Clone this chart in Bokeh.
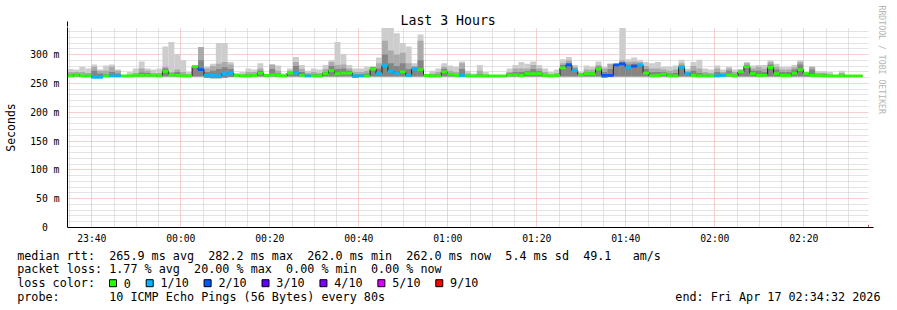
import datetime as dt
from bokeh.plotting import figure
from bokeh.layouts import column
from bokeh.models import (ColumnDataSource, Range1d, FixedTicker, CustomJSTickFormatter,
                          Arrow, NormalHead, Title)
from bokeh.core.properties import value
from bokeh.embed import file_html
from bokeh.resources import INLINE

# ---------------- data ----------------
START = dt.datetime(2026, 4, 16, 23, 34, 32)
END = dt.datetime(2026, 4, 17, 2, 34, 32)
STEP_S = 80

median_ms = [263, 265, 263, 263, 261, 261, 263, 263, 263, 263,
             263, 264, 264, 264, 264, 263, 271, 265, 264, 263,
             263, 279, 274, 264, 264, 263, 267, 268, 264, 263,
             263, 264, 268, 264, 265, 264, 263, 268, 268, 264,
             263, 263, 263, 267, 272, 267, 268, 268, 263, 263,
             263, 275, 267, 281, 271, 268, 270, 264, 275, 274,
             264, 263, 263, 270, 266, 264, 264, 263, 263, 263,
             263, 263, 263, 263, 265, 265, 264, 267, 267, 267,
             264, 263, 264, 277, 282, 272, 265, 267, 267, 275,
             264, 264, 282, 284, 278, 280, 282, 268, 263, 264,
             266, 263, 263, 278, 267, 264, 263, 263, 263, 263,
             264, 265, 263, 270, 279, 267, 264, 264, 278, 267,
             264, 264, 268, 274, 267, 264, 264, 263, 263, 263,
             263, 263, 263, 263]

loss_count = [0, 0, 0, 0, 1, 1, 0, 1, 1, 0,
              0, 0, 0, 0, 0, 0, 0, 0, 0, 0,
              0, 0, 2, 1, 1, 1, 1, 1, 0, 0,
              0, 0, 0, 0, 0, 0, 0, 0, 1, 0,
              1, 0, 0, 0, 0, 0, 0, 0, 1, 1,
              0, 0, 1, 1, 1, 1, 0, 1, 1, 0,
              0, 0, 0, 0, 0, 0, 1, 0, 0, 0,
              0, 0, 0, 0, 0, 0, 0, 0, 0, 0,
              0, 0, 0, 0, 2, 1, 0, 0, 0, 0,
              2, 2, 2, 2, 1, 2, 1, 0, 0, 0,
              0, 0, 0, 1, 1, 0, 0, 0, 0, 1,
              1, 0, 0, 0, 0, 0, 0, 0, 0, 0,
              0, 0, 0, 0, 0, 0, 0, 0, 0, 0,
              0, 0, 0, 0]

ping_max = [275, 274, 279, 276, 283, 274, 281, 283, 274, 264,
            270, 276, 288, 276, 274, 276, 314, 322, 301, 290,
            270, 281, 313, 279, 284, 320, 320, 287, 268, 270,
            276, 274, 285, 266, 283, 281, 267, 276, 296, 282,
            272, 276, 274, 282, 290, 322, 301, 282, 276, 276,
            279, 279, 295, 346, 346, 337, 320, 314, 285, 335,
            266, 272, 276, 285, 281, 279, 288, 272, 267, 282,
            270, 263, 263, 263, 276, 282, 287, 284, 288, 282,
            276, 270, 274, 292, 296, 282, 270, 281, 279, 288,
            279, 284, 284, 346, 292, 295, 291, 287, 285, 287,
            279, 279, 281, 291, 276, 287, 291, 276, 274, 281,
            274, 279, 274, 274, 287, 281, 282, 282, 290, 284,
            279, 279, 282, 290, 270, 279, 271, 271, 270, 263,
            272, 263, 263, 263]

ping_upper2 = [270, 270, 270, 268, 279, 272, 272, 279, 272, 264,
               265, 268, 276, 272, 268, 268, 279, 270, 274, 270,
               266, 281, 313, 276, 280, 284, 287, 283, 266, 266,
               270, 270, 276, 265, 283, 272, 265, 272, 287, 275,
               268, 270, 268, 275, 287, 282, 283, 276, 270, 270,
               272, 279, 285, 324, 307, 300, 303, 285, 280, 324,
               265, 267, 270, 279, 272, 270, 285, 267, 265, 272,
               266, 263, 263, 263, 270, 276, 276, 276, 282, 276,
               270, 266, 268, 285, 290, 279, 268, 274, 274, 282,
               276, 284, 284, 290, 287, 288, 287, 280, 276, 276,
               274, 272, 274, 285, 272, 280, 276, 270, 268, 276,
               270, 276, 270, 274, 285, 276, 279, 276, 287, 279,
               274, 274, 278, 287, 269, 279, 268, 268, 266, 263,
               268, 263, 263, 263]

ping_upper3 = [266, 267, 265, 265, 272, 267, 266, 270, 267, 263,
               264, 265, 269, 268, 265, 265, 276, 267, 270, 265,
               264, 280, 290, 270, 272, 275, 278, 275, 265, 264,
               266, 266, 272, 264, 275, 267, 264, 270, 280, 270,
               265, 266, 265, 270, 280, 275, 276, 272, 266, 266,
               267, 278, 276, 300, 285, 280, 285, 275, 278, 290,
               264, 265, 266, 275, 268, 266, 275, 265, 264, 266,
               264, 263, 263, 263, 268, 270, 270, 271, 275, 271,
               266, 264, 266, 282, 286, 276, 266, 270, 270, 279,
               270, 275, 283, 287, 283, 284, 284, 275, 270, 270,
               270, 267, 268, 281, 269, 272, 268, 266, 265, 270,
               267, 272, 266, 272, 282, 272, 272, 270, 283, 274,
               270, 270, 274, 283, 268, 274, 266, 266, 264, 263,
               265, 263, 263, 263]

ping_min = [261, 262, 261, 261, 259, 259, 261, 261, 261, 262,
            262, 262, 262, 262, 262, 261, 262, 262, 262, 261,
            261, 262, 262, 260, 259, 259, 260, 261, 262, 261,
            261, 262, 262, 262, 262, 262, 261, 262, 262, 262,
            261, 261, 261, 262, 262, 262, 262, 262, 260, 261,
            261, 262, 262, 262, 262, 262, 262, 261, 262, 262,
            262, 261, 261, 262, 262, 262, 261, 261, 261, 261,
            261, 261, 261, 261, 262, 262, 262, 262, 262, 262,
            262, 261, 262, 262, 262, 262, 262, 262, 262, 262,
            260, 261, 262, 262, 262, 262, 262, 262, 261, 262,
            262, 261, 261, 262, 262, 262, 261, 261, 261, 261,
            262, 262, 261, 262, 262, 262, 262, 262, 262, 262,
            262, 262, 262, 262, 262, 262, 262, 261, 261, 262,
            261, 262, 262, 262]

loss_levels = [0, 1, 2, 3, 4, 5, 9]
loss_labels = ["0", "1/10", "2/10", "3/10", "4/10", "5/10", "9/10"]
loss_colors = ["#26ff00", "#00b8ff", "#0059ff", "#5e00ff", "#7e00ff", "#dd00ff", "#ff0000"]

y_major = [0, 50, 100, 150, 200, 250, 300]

title_text = "Last 3 Hours"
y_label = "Seconds"
credit_text = "RRDTOOL / TOBI OETIKER"
stats_line1 = "median rtt:  265.9 ms avg  282.2 ms max  262.0 ms min  262.0 ms now  5.4 ms sd  49.1   am/s"
stats_line2 = "packet loss: 1.77 % avg  20.00 % max  0.00 % min  0.00 % now"
stats_line3 = "loss color:"
stats_line4 = "probe:       10 ICMP Echo Pings (56 Bytes) every 80s"
end_text = "end: Fri Apr 17 02:34:32 2026"

# ---------------- helpers ----------------
EPOCH = dt.datetime(1970, 1, 1)


def ms(t):
    return (t - EPOCH).total_seconds() * 1000.0


def keep_spaces(s):
    return s.replace(" ", "\u00a0")


MONO = "DejaVu Sans Mono"
W = 897
MAIN_H = 246
LEG_H = 310 - MAIN_H
FL, FR, FT, FB = 67, 868, 27, 228   # frame edges in canvas pixels

n = len(median_ms)
lefts = [START + dt.timedelta(seconds=STEP_S * i) for i in range(n)]
rights = [START + dt.timedelta(seconds=STEP_S * (i + 1)) for i in range(n)]
color_of = dict(zip(loss_levels, loss_colors))
BAND = 2.4
src = ColumnDataSource(dict(
    left=lefts, right=rights,
    lo=ping_min, hi=ping_max, hi2=ping_upper2, hi3=ping_upper3,
    mlo=[m - BAND for m in median_ms], mhi=[m + BAND for m in median_ms],
    mcol=[color_of[c] for c in loss_count],
))

# ---------------- main chart ----------------
p = figure(width=W, height=MAIN_H, x_axis_type="datetime", output_backend="svg",
           toolbar_location=None,
           x_range=Range1d(START, END), y_range=Range1d(0, 347),
           min_border_left=FL, min_border_right=W - FR, min_border_top=FT,
           min_border_bottom=MAIN_H - FB,
           background_fill_color="white", border_fill_color="white", outline_line_color=None)
p.frame_align = False

p.title.text = title_text
p.title.align = "left"
p.title.offset = 333
p.title.standoff = 0
p.title.text_font = MONO
p.title.text_font_size = "13.2px"
p.title.text_font_style = "normal"
p.title.text_color = "#000000"

p.add_layout(Title(text=credit_text, align="left", offset=-22, standoff=17,
                   text_font=MONO, text_font_size="8.2px", text_font_style="normal",
                   text_color="#b4b4b4"), "right")

# smoke layers
p.quad(left="left", right="right", bottom="lo", top="hi", source=src,
       fill_color="#cdcdcd", line_color=None)
p.quad(left="left", right="right", bottom="lo", top="hi2", source=src,
       fill_color="#ababab", line_color=None)
p.quad(left="left", right="right", bottom="lo", top="hi3", source=src,
       fill_color="#858585", line_color=None)

# median black step line then coloured median band
step_x = lefts + [rights[-1]]
step_y = median_ms + [median_ms[-1]]
p.step(step_x, step_y, mode="after", line_color="#202020", line_width=1)
p.quad(left="left", right="right", bottom="mlo", top="mhi", source=src,
       fill_color="mcol", line_color=None)

# axes & grid
major_x = []
t = dt.datetime(2026, 4, 16, 23, 40)
while t < END:
    major_x.append(ms(t))
    t += dt.timedelta(minutes=20)
minor_x = []
t = dt.datetime(2026, 4, 16, 23, 35)
while t < END:
    if ms(t) not in major_x:
        minor_x.append(ms(t))
    t += dt.timedelta(minutes=5)

xa = p.xaxis[0]
xa.ticker = FixedTicker(ticks=major_x, minor_ticks=minor_x)
xa.formatter = CustomJSTickFormatter(code="""
const d = new Date(tick);
const h = String(d.getUTCHours()).padStart(2, '0');
const m = String(d.getUTCMinutes()).padStart(2, '0');
return h + ':' + m;
""")
ya = p.yaxis[0]
ya.ticker = FixedTicker(ticks=y_major, minor_ticks=[v for v in range(10, 347, 10) if v % 50])
ya.formatter = CustomJSTickFormatter(
    code="return tick == 0 ? '0\\u00a0\\u00a0' : tick + '\\u00a0m';")
ya.axis_label = y_label
ya.axis_label_text_font = MONO
ya.axis_label_text_font_size = "11.5px"
ya.axis_label_text_font_style = "normal"
ya.axis_label_text_color = "#000000"
ya.axis_label_standoff = 9

for ax in (xa, ya):
    ax.major_tick_in = 0
    ax.major_tick_out = 0
    ax.minor_tick_in = 0
    ax.minor_tick_out = 0
    ax.axis_line_color = "black"
    ax.axis_line_width = 1
    ax.major_label_text_font = MONO
    ax.major_label_text_font_size = "9.75px"
    ax.major_label_text_color = "#000000"
xa.major_label_standoff = 5
ya.major_label_standoff = 8

for g in (p.xgrid[0], p.ygrid[0]):
    g.grid_line_color = "#f2a0a0"
    g.grid_line_dash = "1 1"
    g.minor_grid_line_color = "#c8c8c8"
    g.minor_grid_line_dash = "1 1"

# axis arrow heads (screen units: relative to frame, y upward from frame bottom)
p.add_layout(Arrow(x_start=0, y_start=FB - 29, x_end=0, y_end=FB - 22,
                   start_units="screen", end_units="screen",
                   line_color="black", line_width=1,
                   end=NormalHead(size=5, fill_color="#8b0000", line_color="#8b0000")))
p.add_layout(Arrow(x_start=FR - FL - 2, y_start=0, x_end=873 - FL, y_end=0,
                   start_units="screen", end_units="screen",
                   line_color="black", line_width=1,
                   end=NormalHead(size=5, fill_color="#8b0000", line_color="#8b0000")))

# ---------------- stats / legend block (own pixel-space figure) ----------------
q = figure(width=W, height=LEG_H, output_backend="svg", toolbar_location=None,
           x_range=Range1d(0, W), y_range=Range1d(LEG_H, 0),
           min_border=0, x_axis_location=None, y_axis_location=None,
           background_fill_color="white", border_fill_color="white", outline_line_color=None)
q.frame_align = False
q.grid.visible = False

LX = 16.7
CW = 7.08
rows = [255 - MAIN_H, 268.5 - MAIN_H, 282.7 - MAIN_H, 296.3 - MAIN_H]
FONT = dict(text_font=value(MONO), text_font_size=value("11.75px"), text_color="#000000",
            text_baseline="middle")

q.text(x=[LX] * 4, y=rows,
       text=[keep_spaces(s) for s in (stats_line1, stats_line2, stats_line3, stats_line4)],
       text_align="left", **FONT)
q.text(x=[880], y=[rows[3]], text=[keep_spaces(end_text)], text_align="right", **FONT)

sw_left, sw_text = [], []
bx = 109.0
for lab in loss_labels:
    sw_left.append(bx)
    tx = bx + 14.3
    sw_text.append(tx)
    bx = tx + len(lab) * CW + 15.3
q.quad(left=sw_left, right=[b + 7 for b in sw_left],
       top=[rows[2] - 3.5] * len(sw_left), bottom=[rows[2] + 3.5] * len(sw_left),
       fill_color=loss_colors, line_color="#000000", line_width=1)
q.text(x=sw_text, y=[rows[2]] * len(sw_text), text=loss_labels, text_align="left", **FONT)

layout = column(p, q, spacing=0)
open("out.html", "w").write(file_html(layout, INLINE))
